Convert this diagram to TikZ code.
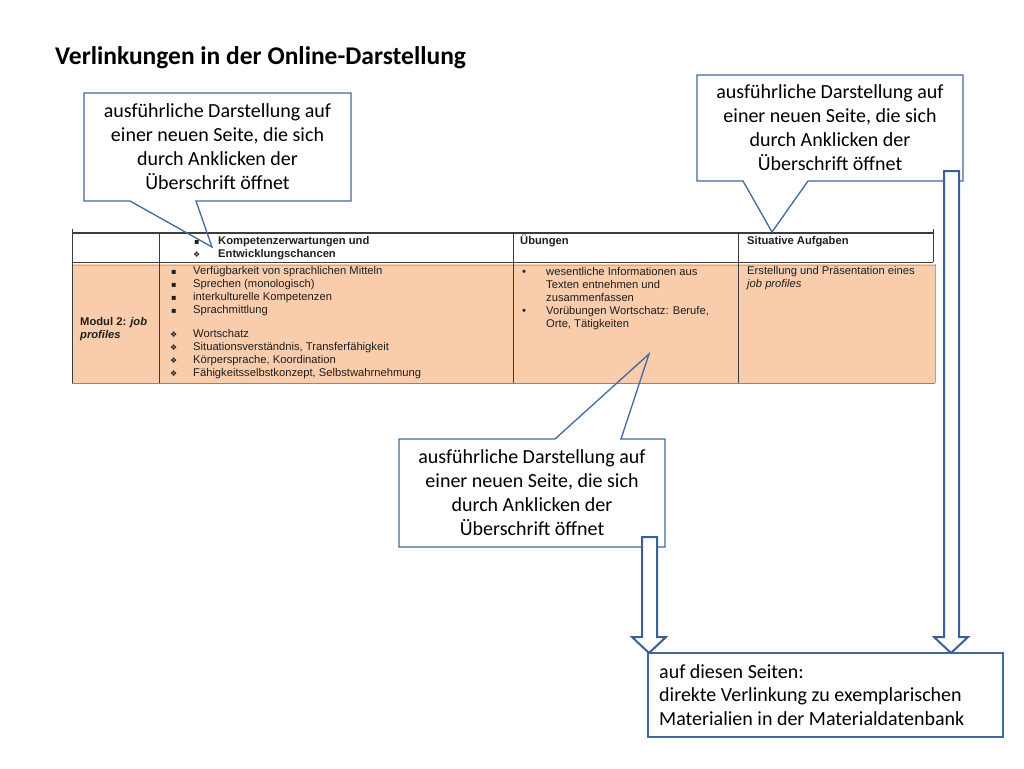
\documentclass[tikz,border=0pt]{standalone}
\usepackage{fontspec}
\setmainfont{Carlito}
\newfontfamily\tabfont{Liberation Sans}
\newfontfamily\symfont{DejaVu Sans}
\definecolor{calloutblue}{RGB}{65,105,160}
\definecolor{arrowblue}{RGB}{60,95,150}
\definecolor{peach}{RGB}{249,205,172}
\definecolor{tabline}{RGB}{60,60,60}
\definecolor{tabbottom}{RGB}{125,145,105}
\definecolor{tabtext}{RGB}{30,30,30}
\begin{document}
\begin{tikzpicture}[x=1pt,y=-1pt,
  callout/.style={draw=calloutblue,line width=1.3pt,line join=miter},
  blockarrow/.style={draw=arrowblue,line width=2pt,fill=white,line join=miter},
  ctext/.style={align=center,inner sep=0pt,font=\fontsize{20}{24}\selectfont,text=black},
  ttext/.style={anchor=base west,inner sep=0pt,font=\tabfont\fontsize{11.2}{13}\selectfont,text=tabtext},
  thead/.style={ttext,font=\tabfont\bfseries\fontsize{11.2}{13}\selectfont},
  tbul/.style={anchor=base west,inner sep=0pt,font=\symfont\fontsize{8}{13}\selectfont,text=tabtext},
  tline/.style={draw=tabline,line width=0.9pt}]
\useasboundingbox (0,0) rectangle (1024,768);

% title
\node[anchor=west,inner sep=0pt,font=\bfseries\fontsize{25.5}{30}\selectfont] (title) at (55,58) {Verlinkungen in der Online-Darstellung};

% table
\fill[peach] (72,264) rectangle (935,383);
\draw[tline,line width=1.6pt] (72,233) -- (933,233);
\draw[tline] (72,262) -- (933,262);
\draw[draw=gray!60,line width=0.6pt] (72,265) -- (935,265);
\draw[tline] (72,229) -- (72,383);
\draw[tline] (159,233) -- (159,383);
\draw[tline] (513,233) -- (513,383);
\draw[tline] (738,233) -- (738,383);
\draw[tline] (933,229) -- (933,262);
\draw[draw=gray!70,line width=0.6pt] (935,264) -- (935,383);
\draw[draw=tabbottom,line width=1pt] (72,383) -- (935,383);

% header texts
\node[tbul] (hb1) at (194,244) {▪};
\node[thead] (h2a) at (218,244) {Kompetenzerwartungen und};
\node[tbul] (hb2) at (193,257) {❖};
\node[thead] (h2b) at (218,257) {Entwicklungschancen};
\node[thead] (h3) at (520,244) {Übungen};
\node[thead] (h4) at (747,244) {Situative Aufgaben};

% column 1
\node[thead] (m1) at (80,325) {Modul 2: \textit{job}};
\node[thead] (m2) at (80,338) {\textit{profiles}};

% column 2
\node[tbul] (b1) at (171,274) {▪};
\node[ttext] (k1) at (193,274) {Verfügbarkeit von sprachlichen Mitteln};
\node[tbul] (b2) at (171,287) {▪};
\node[ttext] (k2) at (193,287) {Sprechen (monologisch)};
\node[tbul] (b3) at (171,300) {▪};
\node[ttext] (k3) at (193,300) {interkulturelle Kompetenzen};
\node[tbul] (b4) at (171,313) {▪};
\node[ttext] (k4) at (193,313) {Sprachmittlung};
\node[tbul] (b5) at (170,337) {❖};
\node[ttext] (k5) at (193,337) {Wortschatz};
\node[tbul] (b6) at (170,350) {❖};
\node[ttext] (k6) at (193,350) {Situationsverständnis, Transferfähigkeit};
\node[tbul] (b7) at (170,363) {❖};
\node[ttext] (k7) at (193,363) {Körpersprache, Koordination};
\node[tbul] (b8) at (170,376) {❖};
\node[ttext] (k8) at (193,376) {Fähigkeitsselbstkonzept, Selbstwahrnehmung};

% column 3
\node[ttext] (u1b) at (522,275) {•};
\node[ttext] (u1) at (546,275) {wesentliche Informationen aus};
\node[ttext] (u2) at (546,288) {Texten entnehmen und};
\node[ttext] (u3) at (546,301) {zusammenfassen};
\node[ttext] (u4b) at (522,314) {•};
\node[ttext] (u4) at (546,314) {Vorübungen Wortschatz: Berufe,};
\node[ttext] (u5) at (546,327) {Orte, Tätigkeiten};

% column 4
\node[ttext] (s1) at (747,274) {Erstellung und Präsentation eines};
\node[ttext] (s2) at (747,287) {\textit{job profiles}};

% callouts
\draw[callout] (84,93) -- (351,93) -- (351,201) -- (196,201) -- (212,247) -- (130,201) -- (84,201) -- cycle;
\node[ctext] (c1) at (217.5,147) {ausführliche Darstellung auf\\einer neuen Seite, die sich\\durch Anklicken der\\Überschrift öffnet};

\draw[callout] (697,75) -- (963,75) -- (963,181) -- (808,181) -- (772,232) -- (743,181) -- (697,181) -- cycle;
\node[ctext] (c2) at (830,128) {ausführliche Darstellung auf\\einer neuen Seite, die sich\\durch Anklicken der\\Überschrift öffnet};

\draw[callout] (399,439) -- (555,439) -- (649,354) -- (621,439) -- (665,439) -- (665,547) -- (399,547) -- cycle;
\node[ctext] (c3) at (532,493) {ausführliche Darstellung auf\\einer neuen Seite, die sich\\durch Anklicken der\\Überschrift öffnet};

% target box
\node[draw=calloutblue,line width=1.3pt,minimum width=355pt,minimum height=84pt,inner sep=0pt] (t) at (825.5,695) {};
\node[anchor=west,align=left,inner sep=0pt,font=\fontsize{20}{23.5}\selectfont] (ttxt) at (659,695) {auf diesen Seiten:\\direkte Verlinkung zu exemplarischen\\Materialien in der Materialdatenbank};

% block arrows
\draw[blockarrow] (642,537) -- (657,537) -- (657,637) -- (666,637) -- (649,653) -- (632,637) -- (642,637) -- cycle;
\draw[blockarrow] (944,171) -- (959,171) -- (959,637) -- (968,637) -- (951,653) -- (934,637) -- (944,637) -- cycle;
\end{tikzpicture}
\end{document}
